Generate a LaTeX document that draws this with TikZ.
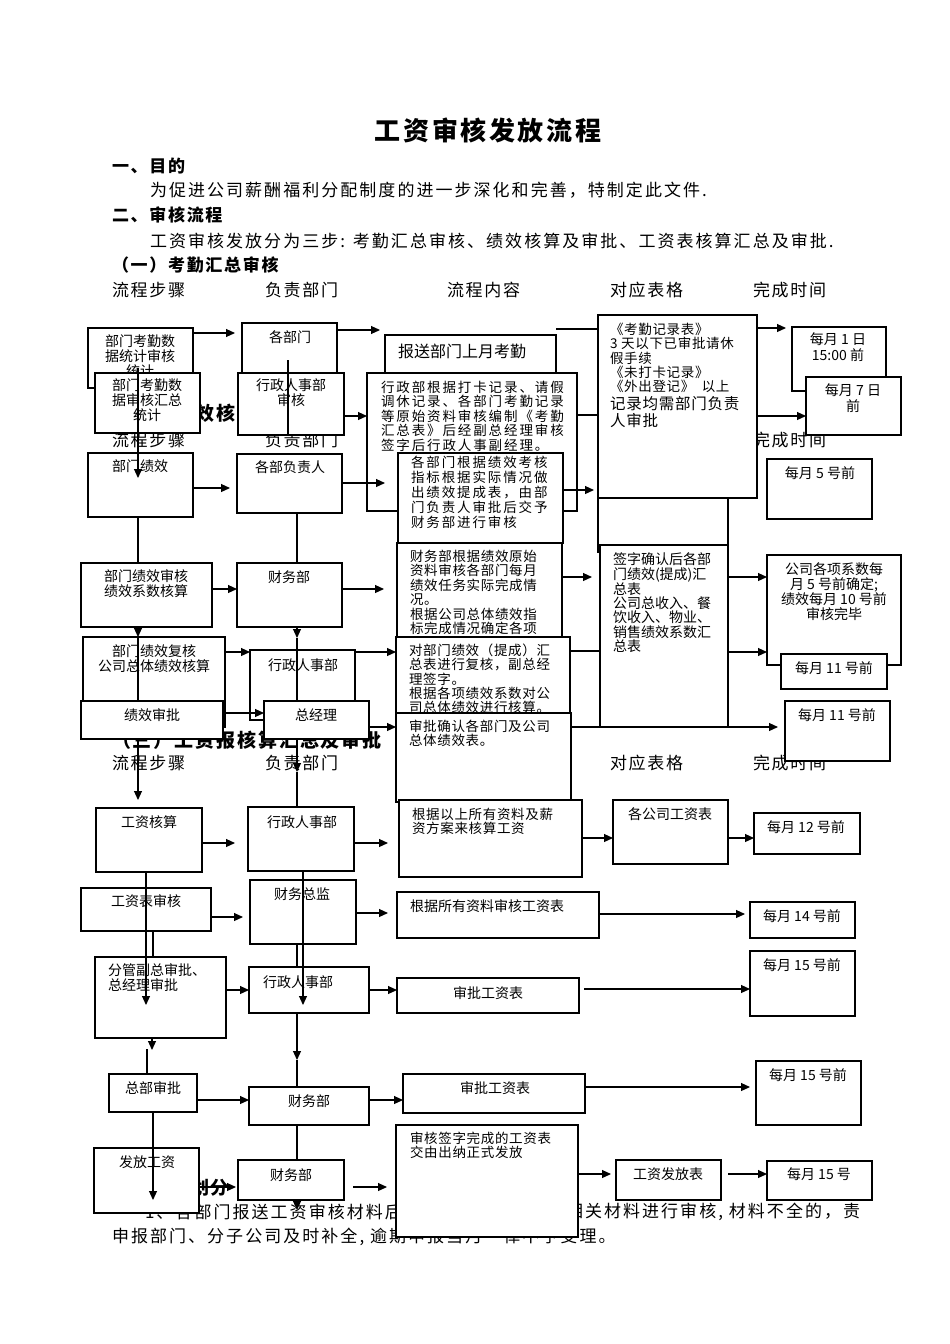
\documentclass[tikz,border=0pt]{standalone}
\usepackage{fontspec}
\setmainfont{Noto Sans CJK SC}
\newfontfamily\lsa[LetterSpace=10]{Noto Sans CJK SC}
\newfontfamily\lsb[LetterSpace=14]{Noto Sans CJK SC}
\newfontfamily\lsc[LetterSpace=5]{Noto Sans CJK SC}
\newfontfamily\lsd[LetterSpace=12]{Noto Sans CJK SC}
\usetikzlibrary{arrows.meta}
\pgfdeclarelayer{front}
\pgfsetlayers{main,front}
\tikzset{
 bx/.style={draw=black, line width=1.1pt, fill=white, inner sep=0pt, outer sep=0pt, anchor=north west},
 ln/.style={line width=1.1pt},
 ar/.style={line width=1.1pt, -{Triangle[length=9pt,width=8pt]}},
 tx/.style={inner sep=0pt, outer sep=0pt, font=\fontsize{14}{15}\selectfont},
 ctx/.style={tx, anchor=north, align=center, font=\fontsize{14}{15}\selectfont},
 ltx/.style={tx, anchor=north west, align=left, font=\lsb\fontsize{13.5}{14.5}\selectfont},
 mtx/.style={tx, anchor=north west, align=left, font=\lsc\fontsize{13.5}{14.3}\selectfont},
 body/.style={tx, anchor=west, font=\lsd\fontsize{17}{19}\selectfont},
 hd/.style={tx, anchor=west, font=\lsa\bfseries\fontsize{17}{19}\selectfont},
 hdb/.style={tx, anchor=west, font=\lsa\bfseries\fontsize{19}{21}\selectfont},
 col/.style={tx, anchor=west, font=\lsa\fontsize{17}{19}\selectfont},
}
\newcommand\bx[5]{\node[bx, minimum width={#4-#2}, minimum height={#5-#3}] (#1) at (#2,#3) {};}
\begin{document}
\begin{tikzpicture}[x=1pt,y=-1pt]
\useasboundingbox (0,0) rectangle (950,1344);
\fill[white] (0,0) rectangle (950,1344);
% ---------- background text ----------
\node[tx, font=\lsa\bfseries\fontsize{26}{30}\selectfont] (title) at (488,130) {工资审核发放流程};
\node[hd] (h1) at (112,166) {一、目的};
\node[body] (p1) at (150,190) {为促进公司薪酬福利分配制度的进一步深化和完善，特制定此文件.};
\node[hd] (h2) at (112,215) {二、审核流程};
\node[body] (p2) at (150,241) {工资审核发放分为三步: 考勤汇总审核、绩效核算及审批、工资表核算汇总及审批.};
\node[hd] (h3) at (112,265) {（一）考勤汇总审核};
\node[col] (r1a) at (112,290) {流程步骤};
\node[col] (r1b) at (265,290) {负责部门};
\node[col] (r1c) at (447,290) {流程内容};
\node[col] (r1d) at (610,290) {对应表格};
\node[col] (r1e) at (753,290) {完成时间};
\node[hdb] (h4) at (112,413) {（二）绩效核算及审批};
\node[col] (r2a) at (112,440) {流程步骤};
\node[col] (r2b) at (265,440) {负责部门};
\node[col] (r2e) at (753,440) {完成时间};
\node[hdb] (h5) at (112,740) {（三）工资报核算汇总及审批};
\node[col] (r3a) at (112,763) {流程步骤};
\node[col] (r3b) at (265,763) {负责部门};
\node[col] (r3d) at (610,763) {对应表格};
\node[col] (r3e) at (753,763) {完成时间};
\node[hdb, font=\lsa\bfseries\fontsize{18}{20}\selectfont] (h6) at (112,1188) {三、职责划分};
\node[body] (p3a) at (145,1212) {1、各部门报送工资审核材料后，};
\node[body] (p3b) at (566,1212) {相关材料进行审核, 材料不全的，责};
\node[body] (p4) at (112,1237) {申报部门、分子公司及时补全, 逾期申报当月一律不予受理。};

% ---------- lower boxes ----------
\bx{dr}{598}{470}{728}{552}
\bx{b5}{385}{335}{556}{380}
\node[tx, anchor=west, font=\fontsize{16}{18}\selectfont] (b5t) at (398,351) {报送部门上月考勤};
\bx{b6}{367}{373}{577}{511}
\node[ltx] (b6t) at (381,381) {行政部根据打卡记录、请假\\调休记录、各部门考勤记录\\等原始资料审核编制《考勤\\汇总表》后经副总经理审核\\签字后行政人事副经理。};
\bx{c3}{398}{453}{563}{543}
\node[ltx, font=\lsb\fontsize{13.5}{15}\selectfont] (c3t) at (411,456) {各部门根据绩效考核\\指标根据实际情况做\\出绩效提成表，由部\\门负责人审批后交予\\财务部进行审核};
\bx{c6}{397}{543}{562}{645}
\node[mtx, font=\lsc\fontsize{13.5}{14.4}\selectfont] (c6t) at (410,550) {财务部根据绩效原始\\资料审核各部门每月\\绩效任务实际完成情\\况。\\根据公司总体绩效指\\标完成情况确定各项};
\bx{c11}{396}{637}{570}{716}
\node[mtx] (c11t) at (409,644) {对部门绩效（提成）汇\\总表进行复核，副总经\\理签字。\\根据各项绩效系数对公\\司总体绩效进行核算。};
\bx{c12}{396}{713}{571}{802}
\node[mtx] (c12t) at (409,720) {审批确认各部门及公司\\总体绩效表。};
\bx{f3}{399}{800}{582}{877}
\node[mtx] (f3t) at (412,808) {根据以上所有资料及薪\\资方案来核算工资};
\bx{b7}{598}{315}{757}{498}
\node[mtx, font=\lsc\fontsize{13.5}{14.3}\selectfont] (b7t) at (610,323) {《考勤记录表》\\3 天以下已审批请休\\假手续\\《未打卡记录》\\《外出登记》\ \ 以上};
\node[tx, anchor=north west, align=left, font=\lsc\fontsize{15.5}{17.5}\selectfont] (b7u) at (610,396) {记录均需部门负责\\人审批};
\bx{d1}{600}{545}{728}{727}
\node[mtx, font=\fontsize{14}{14.2}\selectfont] (d1t) at (613,553) {签字确认后各部\\门绩效(提成)汇\\总表\\公司总收入、餐\\饮收入、物业、\\销售绩效系数汇\\总表};
\bx{b8}{792}{327}{886}{391}
\node[ctx, font=\fontsize{14}{16}\selectfont] (b8t) at (838,333) {每月 1 日\\15:00 前};
\bx{b9}{806}{377}{901}{435}
\node[ctx, font=\fontsize{14}{16}\selectfont] (b9t) at (853,384) {每月 7 日\\前};
\bx{e0}{767}{459}{872}{519}
\node[tx] (e0t) at (820,473) {每月 5 号前};
\bx{e1}{767}{555}{901}{665}
\node[ctx, font=\fontsize{14}{14.8}\selectfont] (e1t) at (834,563) {公司各项系数每\\月 5 号前确定;\\绩效每月 10 号前\\审核完毕};
\bx{e2}{781}{654}{887}{689}
\node[tx] (e2t) at (834,668) {每月 11 号前};
\bx{e3}{785}{701}{890}{761}
\node[tx] (e3t) at (837,715) {每月 11 号前};
\bx{f4}{613}{800}{728}{864}
\node[tx] (f4t) at (670,814) {各公司工资表};
\bx{f5}{754}{813}{860}{854}
\node[tx] (f5t) at (806,827) {每月 12 号前};
\bx{f8}{397}{892}{599}{938}
\node[tx, anchor=west] (f8t) at (410,906) {根据所有资料审核工资表};
\bx{f9}{750}{902}{855}{938}
\node[tx] (f9t) at (802,916) {每月 14 号前};
\bx{f12}{397}{978}{579}{1013}
\node[tx] (f12t) at (488,993) {审批工资表};
\bx{f13}{750}{951}{855}{1016}
\node[tx] (f13t) at (802,965) {每月 15 号前};
\bx{g3}{403}{1074}{585}{1113}
\node[tx] (g3t) at (495,1088) {审批工资表};
\bx{g4}{756}{1061}{861}{1125}
\node[tx] (g4t) at (808,1075) {每月 15 号前};
\bx{g7}{396}{1125}{578}{1237}
\node[mtx] (g7t) at (410,1132) {审核签字完成的工资表\\交由出纳正式发放};
\bx{g8}{616}{1160}{721}{1200}
\node[tx] (g8t) at (668,1174) {工资发放表};
\bx{g9}{767}{1161}{872}{1200}
\node[tx] (g9t) at (819,1174) {每月 15 号};

% boxes that lines pass over
\bx{b1}{88}{328}{193}{388}
\node[ctx] (b1t) at (140,335) {部门考勤数\\据统计审核\\统计};
\bx{b2}{95}{373}{200}{433}
\node[ctx] (b2t) at (147,379) {部门考勤数\\据审核汇总\\统计};
\bx{b3}{242}{323}{337}{374}
\node[tx] (b3t) at (290,337) {各部门};
\bx{b4}{238}{373}{344}{435}
\node[ctx] (b4t) at (291,379) {行政人事部\\审核};
\bx{c1}{88}{453}{193}{517}
\node[tx] (c1t) at (140,466) {部门绩效};
\bx{c2}{237}{454}{342}{513}
\node[tx] (c2t) at (290,467) {各部负责人};
\bx{c7}{83}{637}{225}{727}
\node[ctx, font=\fontsize{14}{14.5}\selectfont] (c7t) at (154,645) {部门绩效复核\\公司总体绩效核算};
\bx{c8}{250}{650}{355}{720}
\node[tx] (c8t) at (303,665) {行政人事部};
\bx{f1}{96}{808}{202}{872}
\node[tx] (f1t) at (149,822) {工资核算};
\bx{f2}{248}{807}{354}{871}
\node[tx] (f2t) at (302,822) {行政人事部};
\bx{f6}{81}{888}{211}{931}
\node[tx] (f6t) at (146,901) {工资表审核};
\bx{f7}{250}{880}{356}{944}
\node[tx] (f7t) at (302,894) {财务总监};
\bx{f10}{95}{957}{226}{1038}
\node[tx, anchor=north west, align=left, font=\fontsize{14}{14.5}\selectfont] (f10t) at (108,964) {分管副总审批、\\总经理审批};
\bx{f11}{249}{967}{369}{1013}
\node[tx, anchor=west] (f11t) at (263,982) {行政人事部};
\bx{g1}{109}{1074}{197}{1112}
\node[tx] (g1t) at (153,1088) {总部审批};
\bx{g2}{249}{1087}{369}{1125}
\node[tx] (g2t) at (309,1101) {财务部};
\bx{g6}{94}{1148}{199}{1213}
\node[tx] (g6t) at (147,1162) {发放工资};

% ---------- boxes drawn above the connectors ----------
\begin{pgfonlayer}{front}
\bx{c4}{81}{563}{212}{627}
\node[ctx, font=\fontsize{14}{14.5}\selectfont] (c4t) at (146,570) {部门绩效审核\\绩效系数核算};
\bx{c5}{237}{563}{342}{627}
\node[tx] (c5t) at (289,577) {财务部};
\bx{c9}{81}{701}{223}{739}
\node[tx] (c9t) at (152,715) {绩效审批};
\bx{c10}{264}{701}{369}{739}
\node[tx] (c10t) at (316,715) {总经理};
\bx{g5}{238}{1160}{344}{1200}
\node[tx] (g5t) at (291,1175) {财务部};
\end{pgfonlayer}

% ---------- named free ends ----------
\coordinate (v1s) at (138,368);
\coordinate (v1e) at (138,478);
\coordinate (m1s) at (288,360);
\coordinate (m3e) at (297,638);
\coordinate (m4e) at (297,772);
\coordinate (s1e) at (146,1005);
\coordinate (s3e) at (152,1050);
\coordinate (s3s) at (147,1049);
\coordinate (s4e) at (153,1200);
\coordinate (t1e) at (303,1005);
\coordinate (t3e) at (297,1060);
\coordinate (t4e) at (297,1210);

% ---------- vertical connectors ----------
\draw[ar] (v1s) -- (v1e);
\draw[ln] (c1.south -| 138,0) -- (c4.north -| 138,0);
\draw[ar] (c4.south -| 138,0) -- (c7.north -| 138,0);
\draw[ln] (c7.north -| 138,0) -- (c9.north -| 138,0);
\draw[ar, shorten >=8pt] (c9.south -| 138,0) -- (f1.north -| 138,0);
\draw[ln] (m1s) -- (b4.south -| 288,0);
\draw[ln] (c2.south -| 297,0) -- (c5.north -| 297,0);
\draw[ar] (c5.south -| 297,0) -- (m3e);
\draw[ln] (m3e) -- (c10.north -| 297,0);
\draw[ar] (c10.south -| 297,0) -- (m4e);
\draw[ln] (m4e) -- (f2.north -| 297,0);
\draw[ar] (f1.south -| 146,0) -- (s1e);
\draw[ln] (f6.south -| 153,0) -- (f10.north -| 153,0);
\draw[ar] (f10.south -| 152,0) -- (s3e);
\draw[ln] (s3s) -- (g1.north -| 147,0);
\draw[ar] (g1.south -| 153,0) -- (s4e);
\draw[ar] (f2.south -| 303,0) -- (t1e);
\draw[ln] (f7.south -| 297,0) -- (f11.north -| 297,0);
\draw[ar] (f11.south -| 297,0) -- (t3e);
\draw[ln] (t3e) -- (g2.north -| 297,0);
\draw[ar] (g2.south -| 297,0) -- (t4e);

% ---------- horizontal connectors ----------
\draw[ar, shorten >=7pt] (b1.east |- 0,333) -- (b3.west |- 0,333);
\draw[ar, shorten >=5pt] (b3.east |- 0,330) -- (b5.west |- 0,330);
\draw[ln] (b5.east |- 0,329) -- (b7.west |- 0,329);
\draw[ar] (b4.east |- 0,416) -- (b6.west |- 0,416);
\draw[ln] (b6.east |- 0,415) -- (b7.west |- 0,415);
\draw[ar, shorten >=6pt] (b7.east |- 0,328) -- (b8.west |- 0,328);
\draw[ar] (b7.east |- 0,416) -- (b9.west |- 0,416);
\draw[ar, shorten >=7pt] (c1.east |- 0,488) -- (c2.west |- 0,488);
\draw[ar, shorten >=13pt] (c2.east |- 0,483) -- (c3.west |- 0,483);
\draw[ar, shorten >=4pt] (c3.east |- 0,490) -- (dr.west |- 0,490);
\draw[ar] (c4.east |- 0,589) -- (c5.west |- 0,589);
\draw[ar, shorten >=13pt] (c5.east |- 0,589) -- (c6.west |- 0,589);
\draw[ar, shorten >=8pt] (c6.east |- 0,577) -- (d1.west |- 0,577);
\draw[ar] (d1.east |- 0,577) -- (e1.west |- 0,577);
\draw[ar, shorten >=14pt] (d1.east |- 0,652) -- (e2.west |- 0,652);
\draw[ar] (c7.east |- 0,652) -- (c8.west |- 0,652);
\draw[ln] (c8.west |- 0,652) -- (c8.west |- 0,713);
\draw[ar] (c9.east |- 0,713) -- (c10.west |- 0,713);
\draw[ar] (c8.east |- 0,652) -- (c11.west |- 0,652);
\draw[ln] (c11.east |- 0,651) -- (d1.west |- 0,651);
\draw[ar] (c10.east |- 0,727) -- (c12.west |- 0,727);
\draw[ar, shorten >=7pt] (c12.east |- 0,727) -- (e3.west |- 0,727);
\draw[ar, shorten >=13pt] (f1.east |- 0,843) -- (f2.west |- 0,843);
\draw[ar, shorten >=11pt] (f2.east |- 0,843) -- (f3.west |- 0,843);
\draw[ar] (f3.east |- 0,838) -- (f4.west |- 0,838);
\draw[ar] (f4.east |- 0,838) -- (f5.west |- 0,838);
\draw[ar, shorten >=7pt] (f6.east |- 0,917) -- (f7.west |- 0,917);
\draw[ar, shorten >=9pt] (f7.east |- 0,913) -- (f8.west |- 0,913);
\draw[ar, shorten >=5pt] (f8.east |- 0,914) -- (f9.west |- 0,914);
\draw[ar] (f10.east |- 0,990) -- (f11.west |- 0,990);
\draw[ar] (f11.east |- 0,990) -- (f12.west |- 0,990);
\draw[ar, shorten <=5pt] (f12.east |- 0,989) -- (f13.west |- 0,989);
\draw[ar] (g1.east |- 0,1100) -- (g2.west |- 0,1100);
\draw[ar] (g2.east |- 0,1100) -- (g3.west |- 0,1100);
\draw[ar, shorten >=6pt] (g3.east |- 0,1087) -- (g4.west |- 0,1087);
\draw[ar, shorten >=2pt] (g6.east |- 0,1187) -- (g5.west |- 0,1187);
\draw[ar, shorten <=9pt, shorten >=9pt] (g5.east |- 0,1187) -- (g7.west |- 0,1187);
\draw[ar, shorten >=5pt] (g7.east |- 0,1174) -- (g8.west |- 0,1174);
\draw[ar, shorten <=7pt] (g8.east |- 0,1174) -- (g9.west |- 0,1174);
\end{tikzpicture}
\end{document}
